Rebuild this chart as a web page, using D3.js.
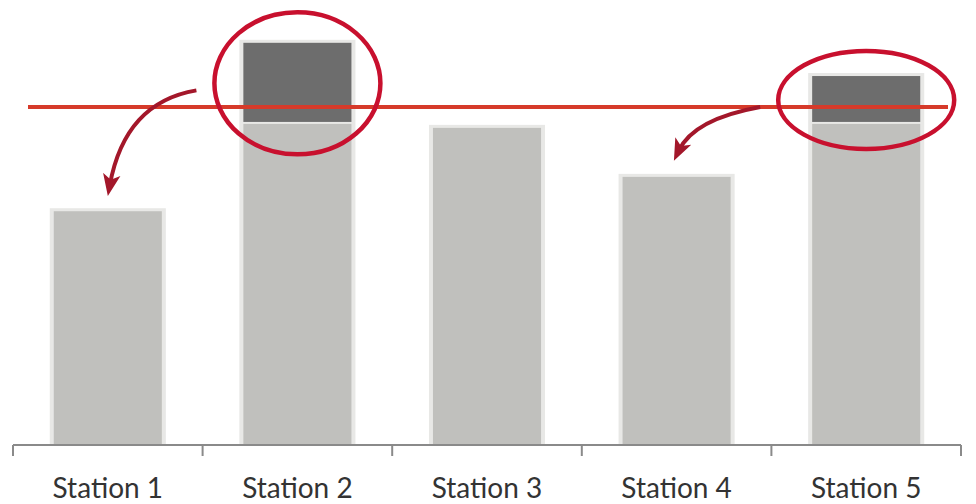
<!DOCTYPE html>
<html>
<head>
<meta charset="utf-8">
<script src="https://cdn.jsdelivr.net/npm/d3@7"></script>
<style>
  html, body { margin: 0; padding: 0; background: #fff; }
  svg { display: block; }
</style>
</head>
<body>
<svg id="chart" width="976" height="504"></svg>
<script>
// Cycle time per station (seconds) against the takt time
const stations = ["Station 1", "Station 2", "Station 3", "Station 4", "Station 5"];
const baseTime = [41.5, 57, 56.3, 47.6, 57];     // work within the station
const excessTime = [0, 14.4, 0, 0, 8.5];         // work exceeding the station slot
const taktTime = 60;
// Overloaded stations and where their excess work is moved
const rebalance = [
  { from: "Station 2", to: "Station 1" },
  { from: "Station 5", to: "Station 4" }
];

const svg = d3.select("#chart");
const baseY = 445;

const x = d3.scaleBand()
  .domain(stations)
  .range([13, 961])
  .paddingInner(0.43)
  .paddingOuter(0.215);

const y = d3.scaleLinear()
  .domain([0, 79])
  .range([baseY, 0]);

const rows = stations.map((s, i) => ({
  name: s, base: baseTime[i], excess: excessTime[i]
}));

const bw = x.bandwidth();

// soft light edge around each bar
svg.append("g").selectAll("rect")
  .data(rows)
  .join("rect")
  .attr("x", d => x(d.name) - 4)
  .attr("y", d => y(d.base + d.excess) - 3)
  .attr("width", bw + 8)
  .attr("height", d => baseY - y(d.base + d.excess) + 3)
  .attr("fill", "#e8e8e6");

// base portion of each bar
svg.append("g").selectAll("rect")
  .data(rows)
  .join("rect")
  .attr("x", d => x(d.name))
  .attr("y", d => y(d.base))
  .attr("width", bw)
  .attr("height", d => baseY - y(d.base))
  .attr("fill", "#c0c0bd");

// excess portion stacked on top
svg.append("g").selectAll("rect")
  .data(rows.filter(d => d.excess > 0))
  .join("rect")
  .attr("x", d => x(d.name))
  .attr("y", d => y(d.base + d.excess))
  .attr("width", bw)
  .attr("height", d => y(d.base) - y(d.base + d.excess) - 2)
  .attr("fill", "#6d6d6d");

// takt time line
svg.append("line")
  .attr("x1", 28).attr("x2", 948)
  .attr("y1", y(taktTime)).attr("y2", y(taktTime))
  .attr("stroke", "#d63a2a")
  .attr("stroke-width", 4);

// category axis with boundary ticks
const step = x.step();
const bounds = [x(stations[0]) + bw / 2 - step / 2]
  .concat(stations.map(s => x(s) + bw / 2 + step / 2));

svg.append("line")
  .attr("x1", bounds[0]).attr("x2", bounds[bounds.length - 1])
  .attr("y1", baseY).attr("y2", baseY)
  .attr("stroke", "#8a8a8a").attr("stroke-width", 2);

svg.append("g").selectAll("line")
  .data(bounds)
  .join("line")
  .attr("x1", d => d).attr("x2", d => d)
  .attr("y1", baseY).attr("y2", baseY + 11)
  .attr("stroke", "#8a8a8a").attr("stroke-width", 2);

const axis = svg.append("g")
  .attr("transform", `translate(0,${baseY})`)
  .call(d3.axisBottom(x).tickSize(0).tickPadding(53));
axis.select(".domain").remove();
axis.selectAll("text")
  .attr("font-family", "Lato, 'Open Sans', sans-serif")
  .attr("font-size", 28)
  .attr("fill", "#333333")
  .attr("dy", "0");

// annotations: circle the excess and show where it goes
const defs = svg.append("defs");
defs.append("marker")
  .attr("id", "head")
  .attr("markerUnits", "userSpaceOnUse")
  .attr("viewBox", "0 0 20 20")
  .attr("refX", 10).attr("refY", 10)
  .attr("markerWidth", 22).attr("markerHeight", 22)
  .attr("orient", "auto")
  .append("path")
  .attr("d", "M0,2 L20,10 L0,18 L5,10 Z")
  .attr("fill", "#a3172a");

const ellipseSize = { "Station 2": [83, 71], "Station 5": [88, 49] };
const byName = Object.fromEntries(rows.map(d => [d.name, d]));

rebalance.forEach(r => {
  const src = byName[r.from], dst = byName[r.to];
  const cx = x(src.name) + bw / 2;
  const cy = (y(src.base + src.excess) + y(src.base)) / 2;
  const [rx, ry] = ellipseSize[r.from];

  svg.append("ellipse")
    .attr("cx", cx).attr("cy", cy)
    .attr("rx", rx).attr("ry", ry)
    .attr("fill", "none")
    .attr("stroke", "#c8102e")
    .attr("stroke-width", 4.5);

  const sx = cx - rx - 18, sy = cy + 7;
  const ex = x(dst.name) + bw / 2 + 2, ey = y(dst.base) - 26;
  const qx = ex + 15, qy = sy + 12;
  svg.append("path")
    .attr("d", `M${sx},${sy} Q${qx},${qy} ${ex},${ey}`)
    .attr("fill", "none")
    .attr("stroke", "#a3172a")
    .attr("stroke-width", 4)
    .attr("marker-end", "url(#head)");
});
</script>
</body>
</html>
